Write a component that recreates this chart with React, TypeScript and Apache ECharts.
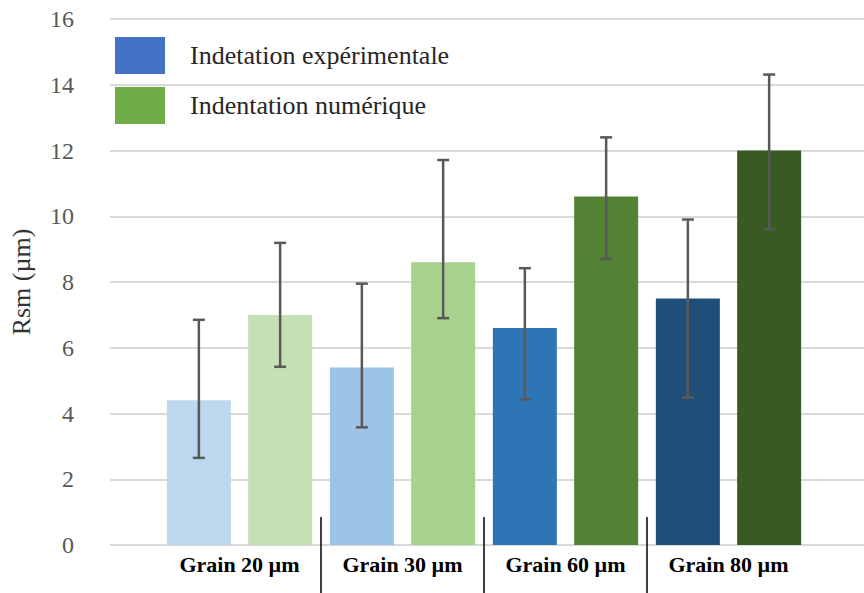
import React, { useEffect, useRef } from "react";
import * as echarts from "echarts";

const categories = ["Grain 20 µm", "Grain 30 µm", "Grain 60 µm", "Grain 80 µm"];
const seriesNames = ["Indetation expérimentale", "Indentation numérique"];
const expValues = [4.4, 5.4, 6.6, 7.5];
const numValues = [7.0, 8.6, 10.6, 12.0];
const expErrLow = [2.65, 3.58, 4.43, 4.49];
const expErrHigh = [6.85, 7.95, 8.42, 9.9];
const numErrLow = [5.42, 6.9, 8.7, 9.61];
const numErrHigh = [9.19, 11.71, 12.4, 14.31];
const expColors = ["#BDD7EE", "#9DC3E6", "#2E75B6", "#1F4E79"];
const numColors = ["#C5E0B4", "#A9D18E", "#548235", "#3A5A24"];
const legendColors = ["#4472C4", "#70AD47"];
const yMin = 0;
const yMax = 16;
const yInterval = 2;

const BAR_WIDTH = 64;
const BAR_GAP = 0.27;
const SERIF = "Liberation Serif";

export default function App() {
  const ref = useRef<HTMLDivElement>(null);

  useEffect(() => {
    if (!ref.current) return;
    const chart = echarts.init(ref.current, undefined, { renderer: "svg" });

    const errData: number[][] = [];
    categories.forEach((_, i) => {
      errData.push([i, expErrLow[i], expErrHigh[i], 0]);
      errData.push([i, numErrLow[i], numErrHigh[i], 1]);
    });

    const option: any = {
      animation: false,
      backgroundColor: "#ffffff",
      textStyle: { fontFamily: SERIF },
      legend: {
        data: seriesNames,
        orient: "vertical",
        left: 115,
        top: 37,
        padding: 0,
        itemWidth: 50,
        itemHeight: 37,
        itemGap: 13,
        icon: "rect",
        textStyle: {
          fontFamily: SERIF,
          fontSize: 26,
          color: "#262626",
          padding: [0, 0, 0, 20],
        },
      },
      grid: [
        { left: 97, right: 0, top: 19, bottom: 48 },
        { left: 158, width: 652, top: 19, bottom: 48 },
      ],
      xAxis: [
        { gridIndex: 0, type: "value", min: 0, max: 1, show: false },
        {
          gridIndex: 1,
          type: "category",
          data: categories,
          axisLine: { show: false },
          axisTick: { show: false },
          axisLabel: {
            fontFamily: SERIF,
            fontWeight: "bold",
            fontSize: 22,
            color: "#000000",
            margin: 8,
          },
        },
      ],
      yAxis: [
        {
          gridIndex: 0,
          type: "value",
          min: yMin,
          max: yMax,
          interval: yInterval,
          name: "Rsm (µm)",
          nameLocation: "middle",
          nameRotate: 90,
          nameGap: 76,
          nameTextStyle: { fontFamily: SERIF, fontSize: 26, color: "#333333" },
          axisLine: { show: false },
          axisTick: { show: false },
          axisLabel: { fontFamily: SERIF, fontSize: 24, color: "#595959", margin: 36 },
          splitLine: { lineStyle: { color: "#d9d9d9", width: 2 } },
        },
        { gridIndex: 1, type: "value", min: yMin, max: yMax, show: false },
      ],
      series: [
        {
          type: "bar",
          name: seriesNames[0],
          xAxisIndex: 1,
          yAxisIndex: 1,
          barWidth: BAR_WIDTH,
          barGap: `${BAR_GAP * 100}%`,
          itemStyle: { color: legendColors[0] },
          data: expValues.map((v, i) => ({ value: v, itemStyle: { color: expColors[i] } })),
        },
        {
          type: "bar",
          name: seriesNames[1],
          xAxisIndex: 1,
          yAxisIndex: 1,
          barWidth: BAR_WIDTH,
          barGap: `${BAR_GAP * 100}%`,
          itemStyle: { color: legendColors[1] },
          data: numValues.map((v, i) => ({ value: v, itemStyle: { color: numColors[i] } })),
        },
        {
          type: "custom",
          name: "err",
          xAxisIndex: 1,
          yAxisIndex: 1,
          z: 10,
          encode: { x: 0, y: [1, 2] },
          data: errData,
          renderItem: (_params: any, api: any) => {
            const cat = api.value(0);
            const low = api.value(1);
            const high = api.value(2);
            const s = api.value(3);
            const offset = (s === 0 ? -1 : 1) * (BAR_WIDTH + BAR_WIDTH * BAR_GAP) / 2;
            const pLow = api.coord([cat, low]);
            const pHigh = api.coord([cat, high]);
            const x = pLow[0] + offset;
            const style = { stroke: "#595959", lineWidth: 2.5 };
            const cap = 6;
            return {
              type: "group",
              children: [
                { type: "line", shape: { x1: x, y1: pHigh[1], x2: x, y2: pLow[1] }, style },
                { type: "line", shape: { x1: x - cap, y1: pHigh[1], x2: x + cap, y2: pHigh[1] }, style },
                { type: "line", shape: { x1: x - cap, y1: pLow[1], x2: x + cap, y2: pLow[1] }, style },
              ],
            };
          },
        },
      ],
    };

    chart.setOption(option);

    // Group separators, positioned from the category axis scale
    const centers = categories.map((_, i) => chart.convertToPixel({ xAxisIndex: 1 } as any, i) as number);
    const yZero = chart.convertToPixel({ yAxisIndex: 1 } as any, 0) as number;
    const lines: any[] = [];
    for (let i = 1; i < centers.length; i++) {
      const x = (centers[i - 1] + centers[i]) / 2;
      lines.push({
        type: "line",
        shape: { x1: x, y1: yZero - 28, x2: x, y2: 600 },
        style: { stroke: "#000000", lineWidth: 1.5 },
        z: 20,
      });
    }
    chart.setOption({ graphic: lines });

    return () => chart.dispose();
  }, []);

  return (
    <div
      ref={ref}
      style={{ position: "fixed", left: 0, top: 0, width: 864, height: 593 }}
    />
  );
}
